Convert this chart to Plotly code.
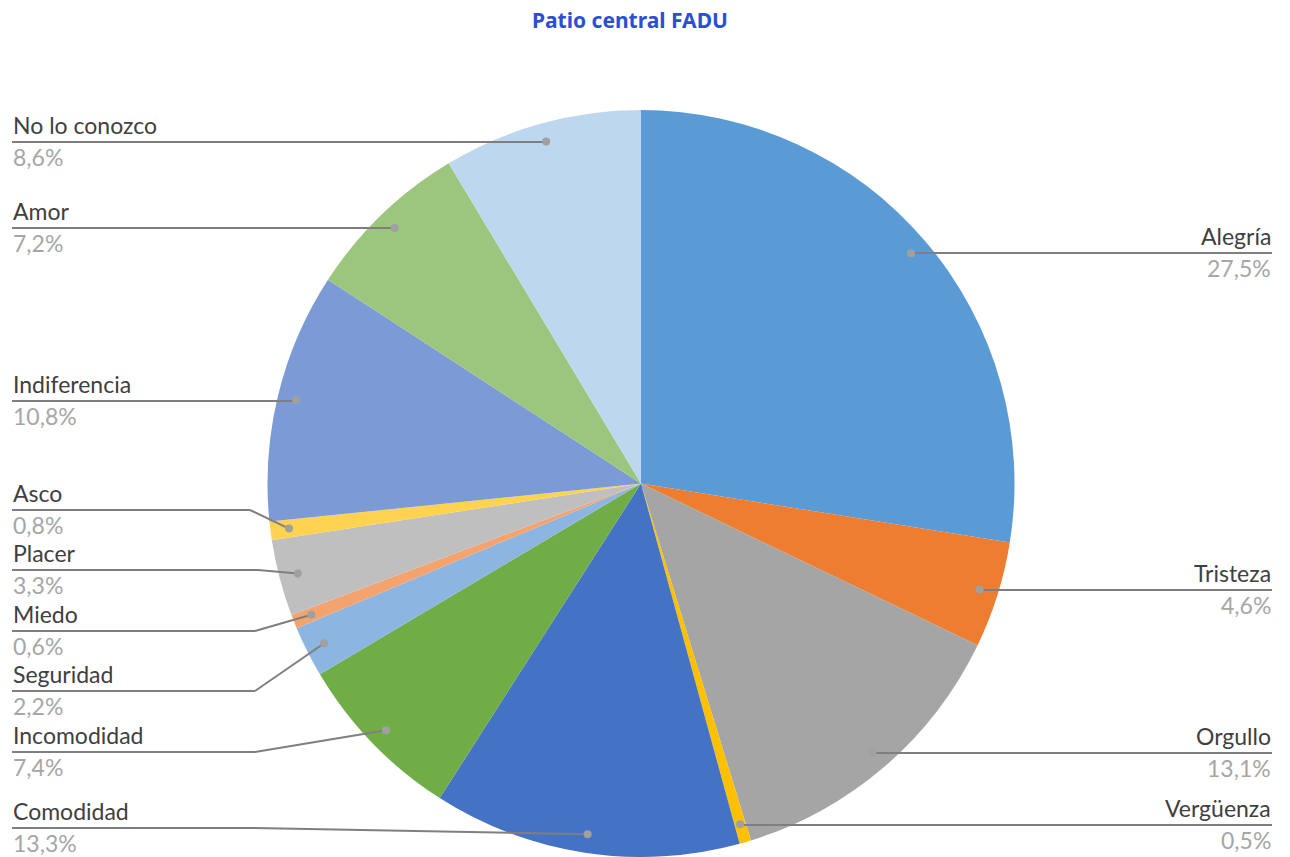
import math
import plotly.graph_objects as go

# ---- data ----
categories = ["Alegría", "Tristeza", "Orgullo", "Vergüenza", "Comodidad", "Incomodidad",
              "Seguridad", "Miedo", "Placer", "Asco", "Indiferencia", "Amor", "No lo conozco"]
values = [27.5, 4.6, 13.1, 0.5, 13.3, 7.4, 2.2, 0.6, 3.3, 0.8, 10.8, 7.2, 8.6]
pct_labels = ["27,5%", "4,6%", "13,1%", "0,5%", "13,3%", "7,4%", "2,2%", "0,6%", "3,3%",
              "0,8%", "10,8%", "7,2%", "8,6%"]

# ---- style / layout ----
colors = ["#5B9BD5", "#ED7D31", "#A5A5A5", "#FFC000", "#4472C4", "#70AD47",
          "#8DB5E1", "#F4A36E", "#BFBFBF", "#FFD24F", "#7C9BD6", "#9CC57E", "#BDD7EE"]
# pixel y of each label's underline, and elbow x (None = straight line to the dot)
label_line_y = [253, 590, 753, 825, 828, 752, 691, 631, 570, 510, 401, 228, 142]
label_elbow_x = [None, None, None, None, 250, 255, 255, 255, 258, 250, None, None, None]

W, H = 1290, 857
CX, TOP = 641, 110
R = 373.5
CY = TOP + R
LEFT_X, RIGHT_X = 12, 1272
LINE_COLOR = "#7F7F7F"
DOT_COLOR = "#A0A0A0"
NAME_COLOR = "#404040"
PCT_COLOR = "#A6A6A6"
FONT = "Lato"
FONT_SIZE = 23


def px(x):
    return x / W


def py(y):
    return 1 - y / H


fig = go.Figure()
fig.add_trace(go.Pie(
    labels=categories, values=values, sort=False, direction="clockwise", rotation=0,
    marker=dict(colors=colors, line=dict(width=0)), textinfo="none",
    hoverinfo="label+percent", showlegend=False,
    domain=dict(x=[px(CX - R), px(CX + R)], y=[0, py(TOP)]),
))

shapes = []
annotations = []
total = sum(values)
cum = 0.0
for i, (name, v) in enumerate(zip(categories, values)):
    theta = 2 * math.pi * (cum + v / 2) / total
    cum += v
    dx = CX + 0.95 * R * math.sin(theta)
    dy = CY - 0.95 * R * math.cos(theta)
    right = math.sin(theta) > 0
    ly = label_line_y[i]
    ex = label_elbow_x[i] if label_elbow_x[i] is not None else dx
    edge = RIGHT_X if right else LEFT_X
    shapes.append(dict(type="line", xref="paper", yref="paper",
                       x0=px(edge), y0=py(ly), x1=px(ex), y1=py(ly),
                       line=dict(color=LINE_COLOR, width=2)))
    shapes.append(dict(type="line", xref="paper", yref="paper",
                       x0=px(ex), y0=py(ly), x1=px(dx), y1=py(dy),
                       line=dict(color=LINE_COLOR, width=2)))
    rd = 4
    shapes.append(dict(type="circle", xref="paper", yref="paper",
                       x0=px(dx - rd), x1=px(dx + rd), y0=py(dy + rd), y1=py(dy - rd),
                       fillcolor=DOT_COLOR, line=dict(width=0)))
    anchor = "right" if right else "left"
    annotations.append(dict(text=name, xref="paper", yref="paper", x=px(edge), y=py(ly - 2),
                            xanchor=anchor, yanchor="bottom", showarrow=False,
                            font=dict(family=FONT, size=FONT_SIZE, color=NAME_COLOR), borderpad=0))
    annotations.append(dict(text=pct_labels[i], xref="paper", yref="paper", x=px(edge), y=py(ly),
                            xanchor=anchor, yanchor="top", showarrow=False,
                            font=dict(family=FONT, size=FONT_SIZE, color=PCT_COLOR), borderpad=0))

annotations.append(dict(text="<b>Patio central FADU</b>", xref="paper", yref="paper",
                        x=px(630), y=py(20), xanchor="center", yanchor="middle", showarrow=False,
                        font=dict(family="Noto Sans", size=21, color="#2B4FD4")))

fig.update_layout(
    width=W, height=H, margin=dict(l=0, r=0, t=0, b=0),
    paper_bgcolor="white", plot_bgcolor="white",
    shapes=shapes, annotations=annotations,
)
fig.write_html("out.html", config={"displayModeBar": False},
               post_script="document.body.style.margin='0';")
